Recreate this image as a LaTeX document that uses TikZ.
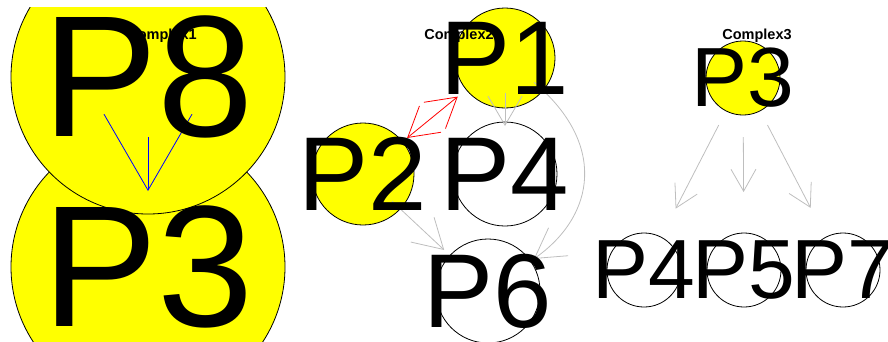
\documentclass[tikz,border=0pt]{standalone}
\usepackage{fontspec}
\setmainfont{Liberation Sans}
\usetikzlibrary{arrows.meta}
\definecolor{ryellow}{RGB}{255,255,0}
\definecolor{rgray}{RGB}{190,190,190}
\begin{document}
\begin{tikzpicture}[x=1pt,y=-1pt,
  pnode/.style={circle,draw=black,line width=0.8pt,inner sep=0pt,minimum size=#1},
  yel/.style={fill=ryellow},
  wht/.style={fill=white},
  lbl/.style={inner sep=0pt,font=\fontsize{#1}{#1}\selectfont},
  ttl/.style={inner sep=0pt,font=\fontsize{14.5}{14.5}\selectfont\bfseries},
  bluearr/.style={draw=blue,line width=0.8pt,-{Straight Barb[length=76pt,width=88pt]}},
  grayarr/.style={draw=rgray,line width=0.8pt,-{Straight Barb[length=29pt,width=34pt]}},
  redarr/.style={draw=red,line width=0.8pt,{Straight Barb[length=29pt,width=34pt]}-{Straight Barb[length=29pt,width=34pt]}},
  smallarr/.style={draw=rgray,line width=0.8pt,-{Straight Barb[length=22pt,width=25pt]}}
]
\useasboundingbox (0,0) rectangle (888,341);
\clip (0,7) rectangle (888,341);

% ---------- Panel 1 ----------
\node[pnode=274,yel] (p3a) at (148,267) {};
\node[pnode=274,yel] (p8) at (148,77) {};
\draw[bluearr,shorten <=60pt,shorten >=76pt] (p8.center) -- (p3a.center);
\node[lbl=173] (t8) at (p8.center) {P8};
\node[lbl=173] (t3a) at (p3a.center) {P3};

% ---------- Panel 2 ----------
\node[pnode=100,yel] (p1b) at (505,58) {};
\node[pnode=102,yel] (p2b) at (363,174) {};
\node[pnode=104,wht] (p4b) at (505,174) {};
\node[pnode=104,wht] (p6b) at (488,291) {};
\draw[grayarr,shorten <=35pt,shorten >=48pt] (p1b.center) -- (p4b.center);
\draw[redarr,shorten <=57pt,shorten >=61pt] (p2b.center) -- (p1b.center);
\draw[grayarr,shorten <=40pt,shorten >=60pt] (p2b.center) -- (p6b.center);
\draw[grayarr,shorten <=38pt,shorten >=56pt] (p1b.center) to[out=-40,in=35,looseness=1.45] (p6b.center);
\node[lbl=105] (t1b) at (p1b.center) {P1};
\node[lbl=105] (t2b) at (p2b.center) {P2};
\node[lbl=105] (t4b) at (p4b.center) {P4};
\node[lbl=105] (t6b) at (p6b.center) {P6};

% ---------- Panel 3 ----------
\node[pnode=74,yel] (p3c) at (743,78) {};
\node[pnode=74,wht] (p4c) at (644,270) {};
\node[pnode=74,wht] (p5c) at (744,270) {};
\node[pnode=74,wht] (p7c) at (843,270) {};
\draw[smallarr,shorten <=53pt,shorten >=69pt] (p3c.center) -- (p4c.center);
\draw[smallarr,shorten <=59pt,shorten >=78pt] (p3c.center) -- (p5c.center);
\draw[smallarr,shorten <=53pt,shorten >=70pt] (p3c.center) -- (p7c.center);
\node[lbl=84] (t3c) at (p3c.center) {P3};
\node[lbl=84] (t4c) at (p4c.center) {P4};
\node[lbl=84] (t5c) at (p5c.center) {P5};
\node[lbl=84] (t7c) at (p7c.center) {P7};

% ---------- Titles ----------
\node[ttl] (ttl1) at (162,36) {Complex1};
\node[ttl] (ttl2) at (459,36) {Complex2};
\node[ttl] (ttl3) at (757,36) {Complex3};
\end{tikzpicture}
\end{document}
